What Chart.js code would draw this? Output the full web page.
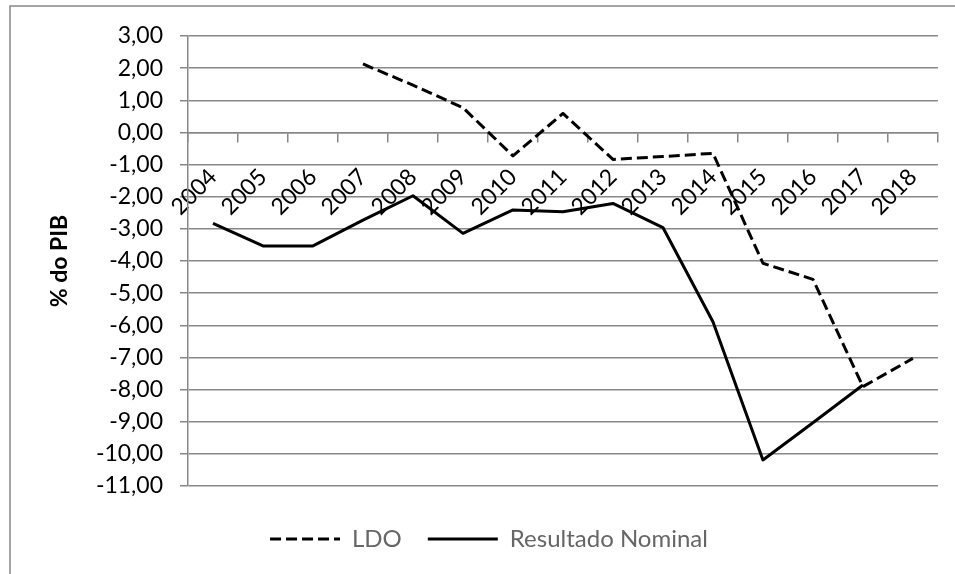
<!DOCTYPE html>
<html>
<head>
<meta charset="utf-8">
<script src="https://cdn.jsdelivr.net/npm/chart.js@4.4.1/dist/chart.umd.min.js"></script>
<style>
  html, body { margin: 0; padding: 0; background: #fff; }
  #chart { display: block; }
</style>
</head>
<body>
<canvas id="chart" width="955" height="574"></canvas>
<script>
// Anos (categorias do eixo X)
const years = ['2004', '2005', '2006', '2007', '2008', '2009', '2010', '2011',
               '2012', '2013', '2014', '2015', '2016', '2017', '2018'];

// Meta de resultado nominal da LDO (% do PIB)
const ldo = [null, null, null, 2.13, 1.47, 0.77, -0.73, 0.59, -0.84, -0.75,
             -0.65, -4.07, -4.57, -7.91, -7.03];

// Resultado nominal efetivo (% do PIB)
const resultadoNominal = [-2.83, -3.53, -3.53, -2.73, -1.97, -3.14, -2.41, -2.47,
                          -2.21, -2.96, -5.89, -10.19, -9.03, -7.86, null];

// Valores das marcas do eixo Y
const yTicks = [3, 2, 1, 0, -1, -2, -3, -4, -5, -6, -7, -8, -9, -10, -11];

const FONT = 'Lato, "Open Sans", sans-serif';
const GRID = '#888888';

// Fundo branco e moldura da área do gráfico
const frame = {
  id: 'frame',
  beforeDraw(chart) {
    const ctx = chart.ctx;
    ctx.save();
    ctx.fillStyle = '#ffffff';
    ctx.fillRect(0, 0, chart.width, chart.height);
    ctx.strokeStyle = GRID;
    ctx.lineWidth = 1.5;
    ctx.strokeRect(10, 6, chart.width + 20, chart.height + 20);
    ctx.restore();
  }
};

new Chart(document.getElementById('chart'), {
  type: 'line',
  data: {
    labels: years,
    datasets: [
      {
        label: 'LDO',
        data: ldo,
        borderColor: '#000',
        backgroundColor: '#000',
        borderWidth: 3,
        borderDash: [11, 5],
        borderJoinStyle: 'round',
        pointRadius: 0,
        tension: 0,
        spanGaps: false
      },
      {
        label: 'Resultado Nominal',
        data: resultadoNominal,
        borderColor: '#000',
        backgroundColor: '#000',
        borderWidth: 3,
        borderJoinStyle: 'round',
        pointRadius: 0,
        tension: 0,
        spanGaps: false
      }
    ]
  },
  options: {
    responsive: false,
    animation: false,
    devicePixelRatio: 1,
    layout: { padding: { left: 40, top: 36, right: 17, bottom: 13 } },
    plugins: {
      tooltip: { enabled: false },
      legend: {
        position: 'bottom',
        title: { display: true, text: '', font: { size: 12.5 }, padding: 0 },
        labels: {
          usePointStyle: true,
          pointStyle: 'line',
          pointStyleWidth: 70,
          padding: 26,
          color: '#000',
          font: { family: FONT, size: 24 },
          // legenda com o mesmo traço (contínuo/tracejado) de cada série
          generateLabels(chart) {
            return chart.data.datasets.map((ds, i) => ({
              text: ds.label,
              fillStyle: ds.borderColor,
              strokeStyle: ds.borderColor,
              lineWidth: ds.borderWidth,
              lineDash: ds.borderDash || [],
              lineCap: 'butt',
              pointStyle: 'line',
              hidden: !chart.isDatasetVisible(i),
              datasetIndex: i
            }));
          }
        }
      }
    },
    scales: {
      x: {
        type: 'category',
        offset: true,
        position: { y: 0 },
        grid: {
          offset: true,
          drawOnChartArea: false,
          drawTicks: true,
          tickLength: 9,
          color: GRID,
          lineWidth: 1.5
        },
        border: { color: GRID, width: 1.5 },
        ticks: {
          autoSkip: false,
          minRotation: 45,
          maxRotation: 45,
          padding: 22,
          color: '#000',
          font: { family: FONT, size: 23 }
        }
      },
      y: {
        min: -11,
        max: 3,
        afterBuildTicks(scale) {
          scale.ticks = yTicks.map(v => ({ value: v }));
        },
        afterFit(scale) {
          scale.width = 148;
        },
        grid: {
          color: GRID,
          lineWidth: 1.5,
          drawTicks: true,
          tickLength: 8
        },
        border: { color: GRID, width: 1.5 },
        ticks: {
          padding: 17,
          color: '#000',
          font: { family: FONT, size: 23 },
          callback: v => v.toFixed(2).replace('.', ',')
        },
        title: {
          display: true,
          text: '% do PIB',
          color: '#000',
          font: { family: FONT, size: 23, weight: 'bold' },
          padding: { top: 6, bottom: 0 }
        }
      }
    }
  },
  plugins: [frame]
});
</script>
</body>
</html>
